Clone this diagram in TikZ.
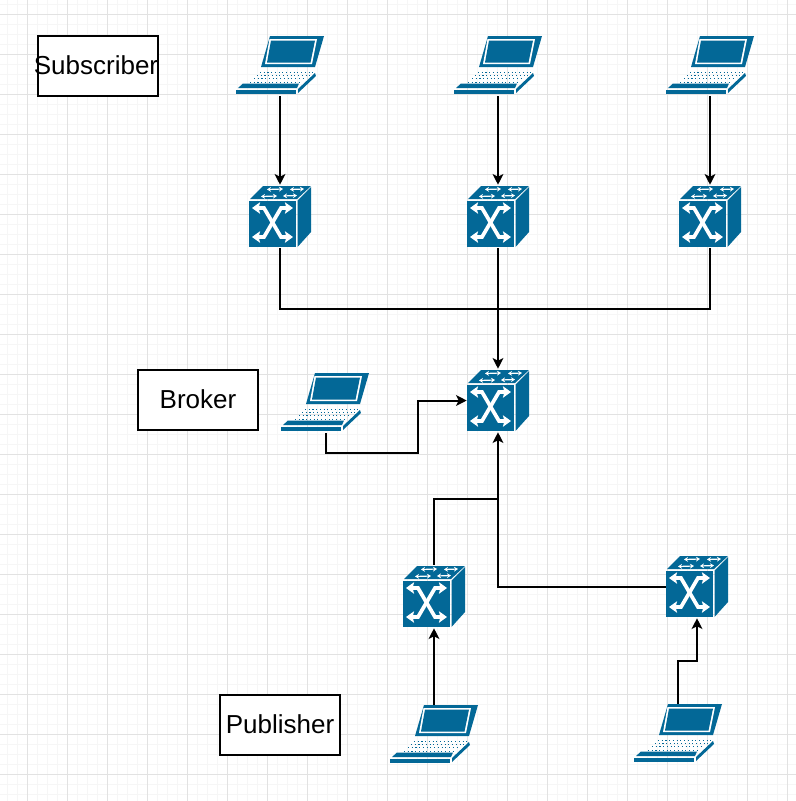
\documentclass[tikz,border=0pt]{standalone}
\usepackage{fontspec}
\setmainfont{Liberation Sans}
\usetikzlibrary{arrows.meta}
\definecolor{dev}{HTML}{036897}
\definecolor{gmaj}{HTML}{E2E2E2}
\definecolor{gmin}{HTML}{F6F6F6}
\newcommand{\boxtext}[2]{\makebox[0pt][c]{\hspace*{#2}\raisebox{1.4pt}{#1}}}
\tikzset{
  labelbox/.style={draw=black,line width=1.5pt,fill=white,minimum width=90pt,minimum height=45pt,inner sep=0pt,font=\fontsize{19.5}{23}\selectfont},
  link/.style={draw=black,line width=1.5pt,-{Stealth[length=8pt,width=8pt,inset=2pt]}},
  plain/.style={draw=black,line width=1.5pt},
  wa/.style={draw=white,line width=2.8pt,{Stealth[length=6pt,width=8.5pt,inset=1pt]}-{Stealth[length=6pt,width=8.5pt,inset=1pt]}},
  wb/.style={draw=white,line width=0.9pt,{Stealth[length=3pt,width=3.6pt]}-{Stealth[length=3pt,width=3.6pt]}}
}
\newcommand{\laptopdev}[3]{%
 \begin{scope}[shift={(#2,#3)}]
  \fill[dev] (34,0)--(88,0)--(79,31)--(25,31)--cycle;
  \fill[white] (33.5,3)--(81,3)--(76,28)--(29,28)--cycle;
  \fill[dev] (35,4.5)--(79,4.5)--(74.5,26.5)--(31,26.5)--cycle;
  \foreach \k/\a/\b in {36/24/77,39.3/21/74,42.6/18/70,46/14/66}
    \draw[dev,line width=0.7pt,dash pattern=on 0.8pt off 2pt] (\a,\k)--(\b,\k);
  \fill[dev] (7,47.5)--(63,47.5)--(61,52)--(2,52)--cycle;
  \fill[dev] (0,54)--(60,54)--(60,58)--(0,58)--cycle;
  \fill[dev] (62,53)--(79,37)--(80,40)--(62,57)--cycle;
  \node[inner sep=0pt,minimum width=66pt,minimum height=45pt] (#1) at (44,30) {};
 \end{scope}}
\newcommand{\switchdev}[3]{%
 \begin{scope}[shift={(#2,#3)}]
  \fill[dev] (1,14)--(14,1)--(62,1)--(48,14)--cycle;
  \fill[dev] (0,16)--(47,16)--(47,62)--(0,62)--cycle;
  \fill[dev] (48.5,15.5)--(62,2)--(62,47)--(48.5,62)--cycle;
  \draw[wa] (3,23)--(15,23)--(32,52)--(44,52);
  \draw[wa] (3,52)--(15,52)--(32,23)--(44,23);
  \draw[wb] (12,11.5)--(28,11); \draw[wb] (18,4.5)--(34,4);
  \draw[wb] (34,11)--(48,10.5); \draw[wb] (41,4.5)--(55,4);
  \node[inner sep=0pt,minimum width=46.5pt,minimum height=47.25pt] (#1) at (31,31.5) {};
 \end{scope}}
\begin{document}
\begin{tikzpicture}[x=0.75pt,y=-0.75pt]
\useasboundingbox (0,0) rectangle (796,801);
\fill[white] (0,0) rectangle (796,801);
\foreach \i in {0,...,79} \draw[gmin,line width=0.75pt] ({\i*10+7},0)--({\i*10+7},801);
\foreach \i in {0,...,80} \draw[gmin,line width=0.75pt] (0,{\i*10+4})--(796,{\i*10+4});
\foreach \i in {0,...,19} \draw[gmaj,line width=0.75pt] ({\i*40+27},0)--({\i*40+27},801);
\foreach \i in {0,...,19} \draw[gmaj,line width=0.75pt] (0,{\i*40+14})--(796,{\i*40+14});

\node[labelbox] (subscriber) at (98,66) {\boxtext{Subscriber}{-3pt}};
\node[labelbox] (broker) at (198,400) {\boxtext{Broker}{0pt}};
\node[labelbox] (publisher) at (280,725) {\boxtext{Publisher}{0pt}};

\laptopdev{la}{236}{36}
\laptopdev{lb}{454}{36}
\laptopdev{lc}{666}{36}
\laptopdev{ld}{281}{373}
\laptopdev{le}{390}{705}
\laptopdev{lf}{634}{704}
\switchdev{sa}{249}{185}
\switchdev{sb}{467}{185}
\switchdev{sc}{679}{185}
\switchdev{sd}{467}{369}
\switchdev{se}{403}{565}
\switchdev{sf}{666}{555}

\draw[link] (la.south)--(sa.north);
\draw[link] (lb.south)--(sb.north);
\draw[link] (lc.south)--(sc.north);
\draw[plain] (sa.south)|-(sc.south |- 0,309)--(sc.south);
\draw[link] (sb.south)--(sd.north);
\draw[link] ([xshift=0.75pt]ld.south)|-(418,453)--(418,400.5)--(sd.west);
\draw[plain] (se.north)|-(498,499);
\draw[link] (sf.west)-|(sd.south);
\draw[link] (le.north)--(se.south);
\draw[link] (lf.north)|-(sf.south |- 0,661)--(sf.south);
\end{tikzpicture}
\end{document}
